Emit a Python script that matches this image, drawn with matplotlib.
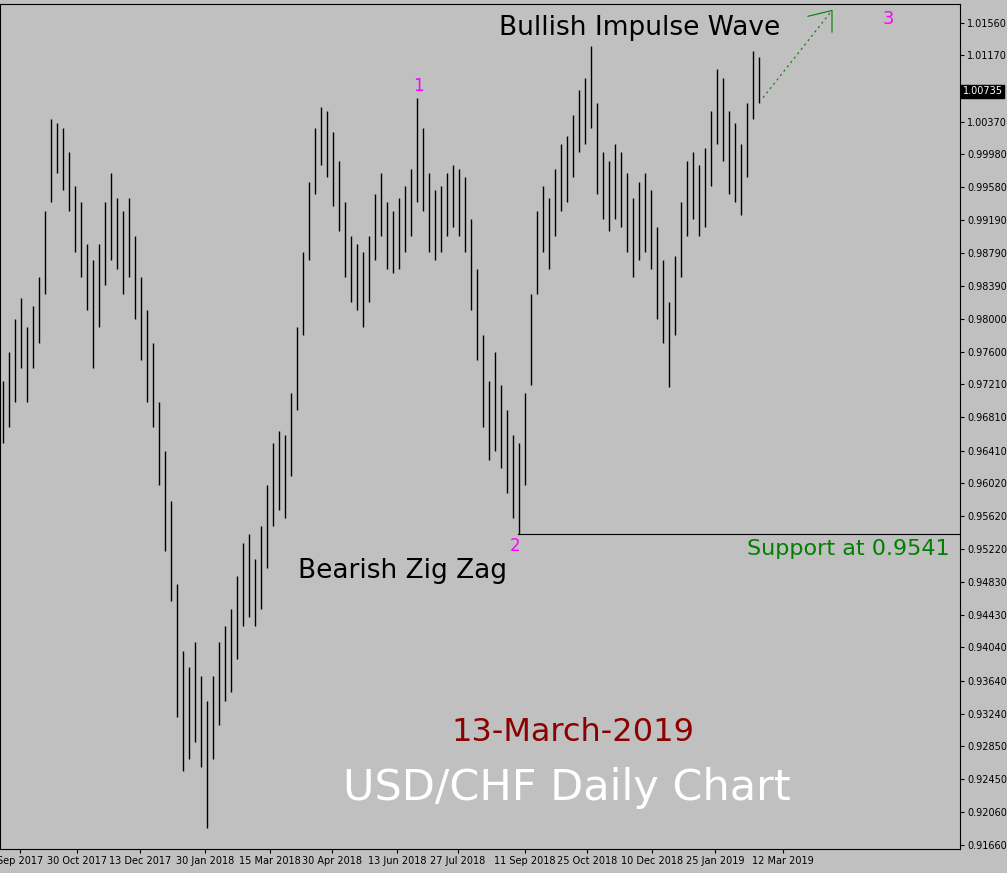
import matplotlib
matplotlib.use("Agg")
import matplotlib.pyplot as plt

# approximate bar highs / lows (each entry ~ 3 trading days)
highs = [0.9725, 0.9760, 0.9800, 0.9825, 0.9790, 0.9815, 0.9850, 0.9930, 1.0040, 1.0035,
         1.0030, 1.0000, 0.9960, 0.9940, 0.9890, 0.9870, 0.9890, 0.9940, 0.9975, 0.9945,
         0.9930, 0.9945, 0.9900, 0.9850, 0.9810, 0.9770, 0.9700, 0.9640, 0.9580, 0.9480,
         0.9400, 0.9380, 0.9410, 0.9370, 0.9340, 0.9370, 0.9410, 0.9430, 0.9450, 0.9490,
         0.9530, 0.9540, 0.9510, 0.9550, 0.9600, 0.9650, 0.9665, 0.9660, 0.9710, 0.9790,
         0.9880, 0.9965, 1.0030, 1.0055, 1.0050, 1.0025, 0.9990, 0.9940, 0.9900, 0.9890,
         0.9880, 0.9900, 0.9950, 0.9975, 0.9940, 0.9930, 0.9945, 0.9960, 0.9980, 1.0065,
         1.0030, 0.9975, 0.9955, 0.9960, 0.9975, 0.9985, 0.9980, 0.9970, 0.9920, 0.9860,
         0.9780, 0.9725, 0.9760, 0.9720, 0.9690, 0.9660, 0.9650, 0.9710, 0.9830, 0.9930,
         0.9960, 0.9945, 0.9980, 1.0010, 1.0020, 1.0045, 1.0075, 1.0090, 1.0128, 1.0060,
         1.0000, 0.9990, 1.0010, 1.0000, 0.9975, 0.9945, 0.9965, 0.9975, 0.9955, 0.9910,
         0.9870, 0.9820, 0.9875, 0.9940, 0.9990, 1.0000, 0.9985, 1.0005, 1.0050, 1.0100,
         1.0090, 1.0050, 1.0035, 1.0010, 1.0060, 1.0122, 1.0115]
lows = [0.9650, 0.9670, 0.9700, 0.9740, 0.9700, 0.9740, 0.9770, 0.9830, 0.9940, 0.9975,
        0.9955, 0.9930, 0.9880, 0.9850, 0.9810, 0.9740, 0.9790, 0.9840, 0.9870, 0.9860,
        0.9830, 0.9850, 0.9800, 0.9750, 0.9700, 0.9670, 0.9600, 0.9520, 0.9460, 0.9320,
        0.9255, 0.9270, 0.9290, 0.9260, 0.9187, 0.9270, 0.9310, 0.9340, 0.9350, 0.9390,
        0.9430, 0.9440, 0.9430, 0.9450, 0.9500, 0.9550, 0.9570, 0.9560, 0.9610, 0.9690,
        0.9780, 0.9870, 0.9950, 0.9985, 0.9970, 0.9935, 0.9905, 0.9850, 0.9820, 0.9810,
        0.9790, 0.9820, 0.9870, 0.9900, 0.9860, 0.9855, 0.9860, 0.9880, 0.9900, 0.9940,
        0.9930, 0.9880, 0.9870, 0.9880, 0.9900, 0.9910, 0.9900, 0.9880, 0.9810, 0.9750,
        0.9670, 0.9630, 0.9640, 0.9620, 0.9590, 0.9560, 0.9541, 0.9600, 0.9720, 0.9830,
        0.9880, 0.9860, 0.9900, 0.9930, 0.9940, 0.9970, 1.0000, 1.0010, 1.0030, 0.9950,
        0.9920, 0.9905, 0.9920, 0.9910, 0.9880, 0.9850, 0.9870, 0.9880, 0.9860, 0.9800,
        0.9770, 0.9717, 0.9780, 0.9850, 0.9900, 0.9920, 0.9900, 0.9910, 0.9960, 1.0010,
        0.9990, 0.9950, 0.9940, 0.9925, 0.9970, 1.0040, 1.0060]

price_ticks = [1.01560, 1.01170, 1.00370, 0.99980, 0.99580, 0.99190, 0.98790,
               0.98390, 0.98000, 0.97600, 0.97210, 0.96810, 0.96410, 0.96020, 0.95620,
               0.95220, 0.94830, 0.94430, 0.94040, 0.93640, 0.93240, 0.92850, 0.92450,
               0.92060, 0.91660]
date_labels = ["Sep 2017", "30 Oct 2017", "13 Dec 2017", "30 Jan 2018", "15 Mar 2018",
               "30 Apr 2018", "13 Jun 2018", "27 Jul 2018", "11 Sep 2018", "25 Oct 2018",
               "10 Dec 2018", "25 Jan 2019", "12 Mar 2019"]
date_pos = [20, 77, 140, 205, 270, 332, 397, 458, 525, 587, 652, 715, 783]
last_price = 1.00735
support = 0.9541

BG = "#c0c0c0"
fig = plt.figure(figsize=(10.07, 8.73), dpi=100, facecolor=BG)
ax = fig.add_axes([0, 24 / 873, 960 / 1007, 845 / 873], facecolor=BG)

xs = [3 + 6 * i for i in range(len(highs))]
ax.vlines(xs, lows, highs, color="black", linewidth=1.0)

ax.set_xlim(0, 960)
ax.set_ylim(0.91612, 1.01788)
ax.yaxis.tick_right()
ax.set_yticks(price_ticks)
ax.set_yticklabels([f"{p:.5f}" for p in price_ticks], fontsize=7)
ax.set_xticks(date_pos)
ax.set_xticklabels(date_labels, fontsize=7)
ax.tick_params(length=3, pad=2)
for s in ax.spines.values():
    s.set_linewidth(0.8)

# current price box
ax.text(1.003, last_price, f"{last_price:.5f}", transform=ax.get_yaxis_transform(),
        fontsize=7, color="white", va="center", ha="left",
        bbox=dict(boxstyle="square,pad=0.15", fc="black", ec="black"), clip_on=False)

# support line
ax.plot([518, 960], [support, support], color="black", linewidth=0.8)
ax.text(950, support - 0.0006, f"Support at {support}", color="green", fontsize=16,
        ha="right", va="top")

# projected path
ax.plot([763, 832], [1.0066, 1.0171], color="green", linestyle=(0, (2, 3)), linewidth=0.8)
ax.plot([808, 832, 832], [1.0164, 1.0171, 1.0145], color="green", linewidth=0.8)

ax.text(640, 1.0150, "Bullish Impulse Wave", fontsize=19, ha="center", va="center")
ax.text(403, 0.9496, "Bearish Zig Zag", fontsize=19, ha="center", va="center")
ax.text(418, 1.0080, "1", color="magenta", fontsize=12, ha="center", va="center")
ax.text(515, 0.9526, "2", color="magenta", fontsize=12, ha="center", va="center")
ax.text(888, 1.0161, "3", color="magenta", fontsize=13, ha="center", va="center")
ax.text(573, 0.9302, "13-March-2019", color="#8b0000", fontsize=23, ha="center", va="center")
ax.text(567, 0.9235, "USD/CHF Daily Chart", color="white", fontsize=31, ha="center", va="center")

fig.savefig("out.png", dpi=100, facecolor=BG)
